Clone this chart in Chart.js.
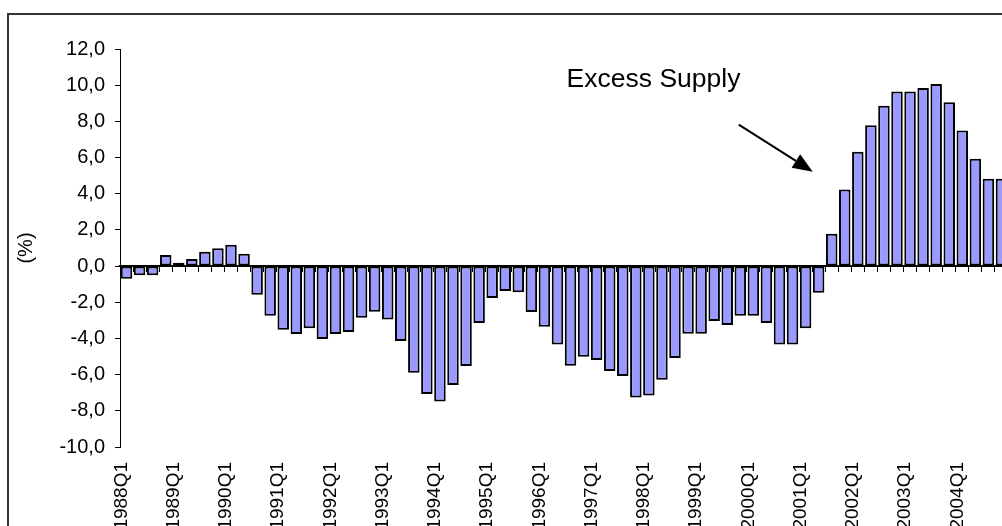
<!DOCTYPE html>
<html>
<head>
<meta charset="utf-8">
<script src="https://cdn.jsdelivr.net/npm/chart.js@4.4.1/dist/chart.umd.min.js"></script>
<style>
html, body { margin:0; padding:0; background:#fff; overflow:hidden; width:1002px; height:526px; }
#wrap { position:absolute; left:0; top:0; width:1010px; height:540px; }
#frame { position:absolute; left:7px; top:13px; width:1100px; height:600px; border:2px solid #333; box-sizing:border-box; pointer-events:none; }
</style>
</head>
<body>
<div id="wrap"><canvas id="chart1" width="1010" height="540"></canvas></div>
<div id="frame"></div>
<script>
// quarters 1988Q1 .. 2004Q4
let years = [1988, 1989, 1990, 1991, 1992, 1993, 1994, 1995, 1996, 1997, 1998, 1999, 2000, 2001, 2002, 2003, 2004];
let quarters = ['Q1', 'Q2', 'Q3', 'Q4'];
let labels = [];
years.forEach(y => quarters.forEach(q => labels.push(y + q)));

// excess supply / demand gap (%)
let gapValues = [
    -0.70, -0.50, -0.50, 0.61,
    0.18, 0.39, 0.79, 0.98,
    1.18, 0.68, -1.58, -2.74,
    -3.52, -3.76, -3.44, -4.03,
    -3.76, -3.65, -2.85, -2.52,
    -2.95, -4.14, -5.89, -7.07,
    -7.48, -6.57, -5.52, -3.15,
    -1.77, -1.38, -1.45, -2.54,
    -3.35, -4.33, -5.51, -5.01,
    -5.19, -5.80, -6.08, -7.27,
    -7.16, -6.28, -5.08, -3.74,
    -3.74, -3.04, -3.26, -2.74,
    -2.74, -3.15, -4.33, -4.33,
    -3.44, -1.47, 1.79, 4.24,
    6.32, 7.79, 8.86, 9.65,
    9.65, 9.85, 10.06, 9.06,
    7.50, 5.93, 4.83, 4.83
];

// annotation, in data units (category index, value)
let noteText = 'Excess Supply';
let notePos = [33.7, 9.92];
let arrowFrom = [46.88, 7.82];
let arrowTo = [52.55, 5.22];

Chart.defaults.font.family = '"Liberation Sans", Arial, sans-serif';
Chart.defaults.color = '#000';

let notePlugin = {
    id: 'note',
    afterDraw(chart) {
        let ctx = chart.ctx, xs = chart.scales.x, ys = chart.scales.y;
        ctx.save();
        ctx.fillStyle = '#000';
        ctx.strokeStyle = '#000';
        ctx.font = '26.5px "Liberation Sans", Arial, sans-serif';
        ctx.textBaseline = 'alphabetic';
        ctx.fillText(noteText, xs.getPixelForValue(notePos[0]), ys.getPixelForValue(notePos[1]));

        let x1 = xs.getPixelForValue(arrowFrom[0]), y1 = ys.getPixelForValue(arrowFrom[1]);
        let x2 = xs.getPixelForValue(arrowTo[0]), y2 = ys.getPixelForValue(arrowTo[1]);
        let ang = Math.atan2(y2 - y1, x2 - x1);
        let headLen = 20, headW = 8;
        let bx = x2 - headLen * Math.cos(ang), by = y2 - headLen * Math.sin(ang);
        ctx.lineWidth = 2;
        ctx.beginPath();
        ctx.moveTo(x1, y1);
        ctx.lineTo(bx, by);
        ctx.stroke();
        ctx.beginPath();
        ctx.moveTo(x2, y2);
        ctx.lineTo(bx + headW * Math.sin(ang), by - headW * Math.cos(ang));
        ctx.lineTo(bx - headW * Math.sin(ang), by + headW * Math.cos(ang));
        ctx.closePath();
        ctx.fill();
        ctx.restore();
    }
};

let ctx = document.getElementById('chart1').getContext('2d');

let myChart = new Chart(ctx, {
    type: 'bar',
    data: {
        labels: labels,
        datasets: [{
            label: 'Gap',
            data: gapValues,
            backgroundColor: '#9999ff',
            borderColor: '#000',
            borderWidth: 2,
            borderSkipped: false,
            barPercentage: 0.88,
            categoryPercentage: 1.0
        }]
    },
    options: {
        responsive: false,
        animation: false,
        layout: { padding: { top: 49, left: 0, right: 2, bottom: 0 } },
        plugins: { legend: { display: false }, tooltip: { enabled: false } },
        scales: {
            x: {
                ticks: {
                    autoSkip: false, minRotation: 90, maxRotation: 90,
                    padding: 15, labelOffset: -5,
                    font: { size: 19 },
                    callback: function (v, i) { return i % 4 === 0 ? this.getLabelForValue(v) : ''; }
                },
                grid: { display: false, drawTicks: false },
                border: { display: false },
                afterFit: s => { s.height = 93; s.paddingLeft = 0; s.paddingRight = 0; }
            },
            x2: {
                type: 'category',
                position: { y: 0 },
                z: 1,
                offset: true,
                ticks: { display: false, autoSkip: false },
                grid: { drawOnChartArea: false, tickLength: 5, color: '#000', offset: true },
                border: { color: '#000', width: 2 },
                afterFit: s => { s.paddingLeft = 0; s.paddingRight = 0; }
            },
            y: {
                min: -10,
                max: 12,
                ticks: {
                    stepSize: 2, padding: 10, font: { size: 20 },
                    callback: v => v.toFixed(1).replace('.', ',')
                },
                grid: { drawOnChartArea: false, tickLength: 5, color: '#000' },
                border: { color: '#000', width: 1 },
                title: { display: true, text: '(%)', font: { size: 20 }, padding: { top: 14, bottom: 0 } },
                afterFit: s => { s.width = 120; }
            }
        }
    },
    plugins: [notePlugin]
});
</script>
</body>
</html>
